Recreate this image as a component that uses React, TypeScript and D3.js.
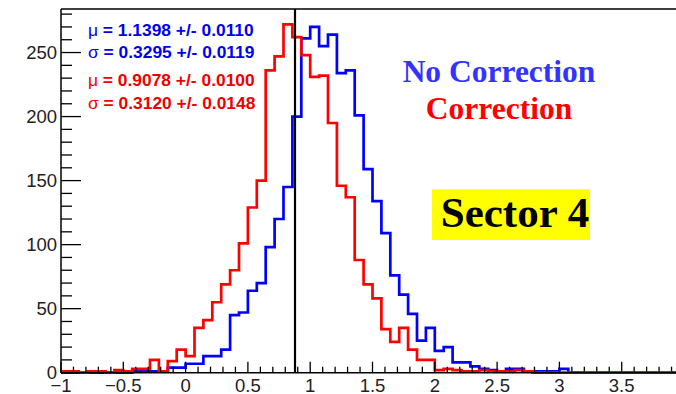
import React from "react";
import * as d3 from "d3";

// Histogram: 70 bins over [-1, 4), bin width 1/14
const binLo = -1;
const binHi = 4;
const nBins = 70;

const noCorrection = [
  0, 0, 0, 0, 0, 0, 0, 0, 1, 1,
  1, 1, 4, 4, 7, 7, 13, 13, 18, 45,
  47, 64, 70, 98, 120, 145, 200, 261, 270, 255,
  264, 234, 236, 201, 159, 134, 109, 76, 61, 46,
  25, 35, 17, 20, 8, 8, 5, 3, 2, 1,
  3, 3, 1, 1, 1, 1, 3, 0, 0, 0,
  0, 0, 0, 0, 0, 0, 0, 0, 0, 0,
];

const correction = [
  1, 1, 0, 1, 1, 0, 2, 1, 3, 3,
  10, 1, 9, 18, 13, 35, 41, 55, 69, 80,
  101, 129, 150, 236, 247, 272, 262, 248, 231, 232,
  195, 146, 137, 88, 69, 58, 34, 24, 35, 18,
  10, 10, 2, 3, 2, 1, 1, 2, 1, 1,
  1, 2, 1, 0, 0, 0, 0, 0, 0, 0,
  0, 0, 0, 0, 0, 0, 0, 0, 0, 0,
];

const xMajorTicks = [-1, -0.5, 0, 0.5, 1, 1.5, 2, 2.5, 3, 3.5];
const yMajorTicks = [0, 50, 100, 150, 200, 250];
const referenceX = 0.878;

const statsBlue = ["1.1398 +/- 0.0110", "0.3295 +/- 0.0119"];
const statsRed = ["0.9078 +/- 0.0100", "0.3120 +/- 0.0148"];

const W = 676;
const H = 394;

export default function App() {
  const x = d3.scaleLinear().domain([binLo, binHi]).range([61, 684]);
  const y = d3.scaleLinear().domain([0, 284]).range([372.7, 9]);
  const bw = (binHi - binLo) / nBins;

  const stepPath = (vals: number[]) => {
    const pts: [number, number][] = [];
    vals.forEach((v, i) => {
      pts.push([x(binLo + i * bw), y(v)]);
      pts.push([x(binLo + (i + 1) * bw), y(v)]);
    });
    return d3.line()(pts) as string;
  };

  const xMinor = d3.range(-10, 40).map((k) => k / 10).filter((v) => v >= -1 && v <= 4);
  const yMinor = d3.range(0, 290, 10);

  const fmtX = (v: number) => (v < 0 ? "\u2212" + String(-v) : String(v));
  const sans = "'Liberation Sans', Arial, Helvetica, sans-serif";
  const serif = "'Liberation Serif', 'Times New Roman', serif";

  return (
    <svg
      width={W}
      height={H}
      style={{ position: "absolute", left: 0, top: 0, background: "#fff" }}
    >
      <defs>
        <clipPath id="plotClip">
          <rect x={0} y={0} width={W} height={H} />
        </clipPath>
      </defs>
      <g clipPath="url(#plotClip)">
        {/* histograms */}
        <path d={stepPath(noCorrection)} fill="none" stroke="#0000ff" strokeWidth={2.7} />
        <path d={stepPath(correction)} fill="none" stroke="#ff0000" strokeWidth={2.7} />

        {/* reference line */}
        <line x1={x(referenceX)} x2={x(referenceX)} y1={y(0)} y2={y(284)} stroke="#000" strokeWidth={2.2} />

        {/* frame */}
        <line x1={61} x2={W} y1={9} y2={9} stroke="#000" strokeWidth={1.5} />
        <line x1={61} x2={61} y1={9} y2={y(0)} stroke="#000" strokeWidth={1.5} />
        <line x1={61} x2={W} y1={y(0)} y2={y(0)} stroke="#000" strokeWidth={1.5} />

        {/* y ticks */}
        {yMinor.map((v) => (
          <line key={"ym" + v} x1={61} x2={yMajorTicks.includes(v) ? 81 : 72} y1={y(v)} y2={y(v)} stroke="#000" strokeWidth={1.3} />
        ))}
        {yMajorTicks.map((v) => (
          <text key={"yl" + v} x={57} y={y(v)} dy="0.36em" textAnchor="end" fontFamily={sans} fontSize={18.5} fill="#222">
            {v}
          </text>
        ))}

        {/* x ticks */}
        {xMinor.map((v) => {
          const major = xMajorTicks.some((m) => Math.abs(m - v) < 1e-6);
          return (
            <line key={"xm" + v} x1={x(v)} x2={x(v)} y1={y(0)} y2={y(0) - (major ? 11 : 6)} stroke="#000" strokeWidth={1.3} />
          );
        })}
        {xMajorTicks.map((v) => (
          <text key={"xl" + v} x={x(v)} y={391.5} textAnchor="middle" fontFamily={sans} fontSize={18.5} fill="#222">
            {fmtX(v)}
          </text>
        ))}

        {/* fit statistics */}
        {statsBlue.map((s, i) => (
          <text key={"sb" + i} x={88} y={i === 0 ? 36 : 58} fontFamily={sans} fontSize={17.4} fontWeight="bold" fill="#0000ee">
            <tspan fontWeight="normal">{i === 0 ? "\u03bc" : "\u03c3"}</tspan>
            {" = " + s}
          </text>
        ))}
        {statsRed.map((s, i) => (
          <text key={"sr" + i} x={88} y={i === 0 ? 86 : 109} fontFamily={sans} fontSize={17.4} fontWeight="bold" fill="#ee0000">
            <tspan fontWeight="normal">{i === 0 ? "\u03bc" : "\u03c3"}</tspan>
            {" = " + s}
          </text>
        ))}

        {/* legend */}
        <text x={499} y={81.5} textAnchor="middle" fontFamily={serif} fontSize={31.5} fontWeight="bold" fill="#3333ff">
          No Correction
        </text>
        <text x={499} y={119.3} textAnchor="middle" fontFamily={serif} fontSize={31.5} fontWeight="bold" fill="#ff0000">
          Correction
        </text>

        <rect x={432} y={189.3} width={158} height={50.7} fill="#ffff00" />
        <text x={515} y={227.3} textAnchor="middle" fontFamily={serif} fontSize={43} fontWeight="bold" fill="#000">
          Sector 4
        </text>
      </g>
    </svg>
  );
}
